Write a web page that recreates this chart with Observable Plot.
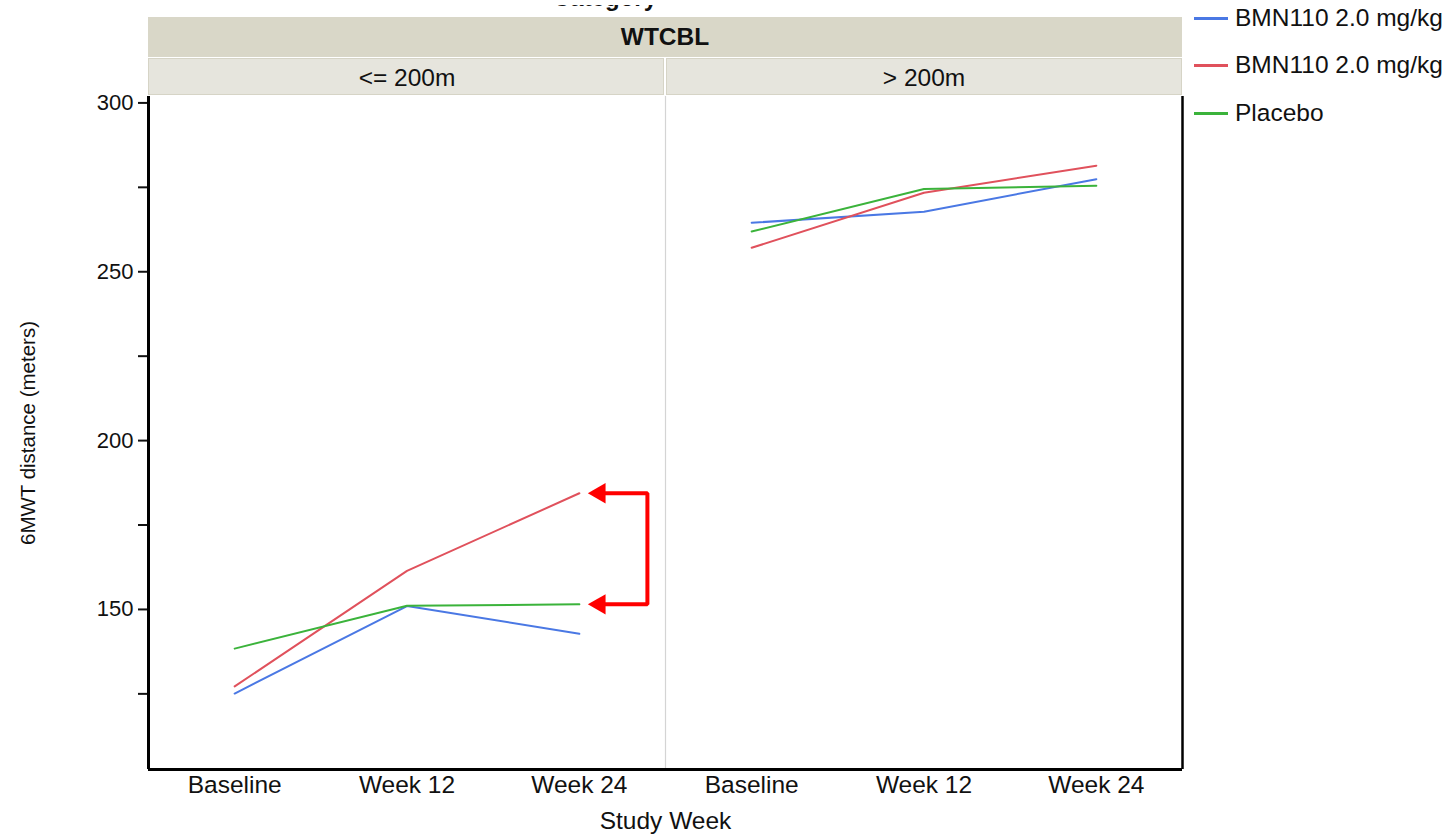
<!DOCTYPE html>
<html>
<head>
<meta charset="utf-8">
<script src="https://cdn.jsdelivr.net/npm/d3@7"></script>
<script src="https://cdn.jsdelivr.net/npm/@observablehq/plot@0.6"></script>
<style>
  html, body { margin: 0; padding: 0; background: #ffffff; }
  body { font-family: "Liberation Sans", Arial, Helvetica, sans-serif; color: #111; }
  #wrap { position: relative; width: 1444px; height: 836px; overflow: hidden; background: #fff; }
  .strip { position: absolute; box-sizing: border-box; display: flex; align-items: center; justify-content: center; z-index: 0; }
  #plotHost { position: absolute; left: 0; top: 0; z-index: 1; }
  .titleClip { position: absolute; left: 0; top: 5px; width: 1444px; height: 9px; overflow: hidden; z-index: 2; }
  .title { position: absolute; font-weight: bold; font-size: 24px; line-height: 24px; white-space: nowrap; }
  .legend { position: absolute; left: 1194px; top: 0; z-index: 2; }
  .legend .item { position: absolute; left: 0; white-space: nowrap; display: flex; align-items: center; font-size: 24.5px; height: 30px; }
  .legend .sw { width: 34px; height: 3px; margin-right: 7px; }
</style>
</head>
<body>
<div id="wrap">
  <div class="titleClip"><div class="title" id="title" style="right:787px; top:-19.3px;"></div></div>
  <div class="strip" style="left:148px; top:17px; width:1034px; height:40px; background:#d9d7c8; font-weight:bold; font-size:24.5px;" id="topStrip"></div>
  <div class="strip" style="left:148px; top:58px; width:516px; height:37px; background:#e6e5dd; border:1px solid #d6d4c6;"></div>
  <div class="strip" style="left:666px; top:58px; width:516px; height:37px; background:#e6e5dd; border:1px solid #d6d4c6;"></div>
  <div id="plotHost"></div>
  <div class="legend" id="legend"></div>
</div>
<script>
// ---------- data ----------
const panelTitle = "WTCBL";
const titleText = "Category";
const weeks = ["Baseline", "Week 12", "Week 24"];
const groups = ["<= 200m", "> 200m"];
const seriesKeys = ["BMN110 2.0 mg/kg (a)", "BMN110 2.0 mg/kg (b)", "Placebo"];
const seriesLabels = ["BMN110 2.0 mg/kg", "BMN110 2.0 mg/kg", "Placebo"];
const seriesColors = ["#4a78e4", "#e0515c", "#3bb33b"];

// "<= 200m" panel
const blueLow  = [125.1, 151.0, 142.8];
const redLow   = [127.2, 161.4, 184.4];
const greenLow = [138.4, 151.1, 151.5];
// "> 200m" panel
const blueHigh  = [264.5, 267.8, 277.4];
const redHigh   = [257.1, 273.4, 281.4];
const greenHigh = [261.9, 274.5, 275.5];

const yTicks = [125, 150, 175, 200, 225, 250, 275, 300];
const yLabel = "6MWT distance (meters)";
const xLabel = "Study Week";

// ---------- build table ----------
const rows = [];
const panelSeries = [[blueLow, redLow, greenLow], [blueHigh, redHigh, greenHigh]];
groups.forEach((g, gi) => {
  panelSeries[gi].forEach((vals, si) => {
    vals.forEach((v, wi) => rows.push({group: g, series: seriesKeys[si], week: weeks[wi], xi: wi, value: v}));
  });
});

const xDomain = [-0.5, weeks.length - 0.5];
const yDomain = [102.6, 301.9];

// annotation bracket between red and green Week 24 values in the first panel
const lastX = weeks.length - 1;
const arrowTop = redLow[lastX];
const arrowBottom = greenLow[lastX];
const bracket = [
  {g: groups[0], x: lastX + 0.14, y: arrowTop},
  {g: groups[0], x: lastX + 0.395, y: arrowTop},
  {g: groups[0], x: lastX + 0.395, y: arrowBottom},
  {g: groups[0], x: lastX + 0.14, y: arrowBottom}
];
const heads = [
  {g: groups[0], x: lastX + 0.118, y: arrowTop},
  {g: groups[0], x: lastX + 0.118, y: arrowBottom}
];

const font = '"Liberation Sans", Arial, Helvetica, sans-serif';

const chart = Plot.plot({
  width: 1444,
  height: 836,
  marginLeft: 148,
  marginRight: 262,
  marginTop: 96,
  marginBottom: 67,
  style: {background: "transparent", fontFamily: font, fontSize: "24px", color: "#111", overflow: "visible"},
  x: {domain: xDomain},
  y: {domain: yDomain},
  fx: {domain: groups, padding: 0},
  color: {domain: seriesKeys, range: seriesColors},
  marks: [
    // strip labels (facet names)
    Plot.axisFx({anchor: "top", tickSize: 0, tickPadding: 11, label: null, fontSize: 24.5}),
    // overall x title
    Plot.axisFx({anchor: "bottom", tickSize: 0, tickFormat: () => "", label: xLabel, labelAnchor: "center", labelOffset: 59, labelArrow: "none", fontSize: 24.5}),
    Plot.axisX({ticks: weeks.map((w, i) => i), tickFormat: i => weeks[i], tickSize: 0, tickPadding: 6, label: null, fontSize: 24.5}),
    Plot.axisY({ticks: yTicks, tickFormat: d => d % 50 === 0 ? d : "", tickSize: 10, tickPadding: 5, strokeWidth: 2, label: null, fontSize: 22}),
    Plot.axisY({ticks: [], label: yLabel, labelAnchor: "center", labelOffset: 128, labelArrow: "none", fontSize: 20.5}),
    // panel divider
    Plot.ruleX([{g: groups[1], x: xDomain[0]}], {x: "x", fx: "g", stroke: "#d4d4d4", strokeWidth: 1.2}),
    // frame lines
    Plot.ruleY([yDomain[0]], {stroke: "#000", strokeWidth: 3}),
    Plot.ruleX([{g: groups[0], x: xDomain[0]}], {x: "x", fx: "g", stroke: "#000", strokeWidth: 3}),
    Plot.ruleX([{g: groups[1], x: xDomain[1]}], {x: "x", fx: "g", stroke: "#000", strokeWidth: 2.5}),
    // data lines
    Plot.line(rows, {fx: "group", x: "xi", y: "value", z: "series", stroke: "series", strokeWidth: 2}),
    // annotation
    Plot.line(bracket, {fx: "g", x: "x", y: "y", stroke: "#ff0000", strokeWidth: 4, strokeLinejoin: "miter", curve: "linear"}),
    Plot.dot(heads, {fx: "g", x: "x", y: "y", symbol: "triangle", r: 7.6, rotate: -90, fill: "#ff0000", stroke: "none"})
  ]
});

document.getElementById("plotHost").appendChild(chart);
document.getElementById("topStrip").textContent = panelTitle;
document.getElementById("title").textContent = titleText;

// legend
const legend = document.getElementById("legend");
const legendY = [3, 50, 98];
seriesKeys.forEach((k, i) => {
  const item = document.createElement("div");
  item.className = "item";
  item.style.top = legendY[i] + "px";
  const sw = document.createElement("div");
  sw.className = "sw";
  sw.style.background = seriesColors[i];
  const t = document.createElement("span");
  t.textContent = seriesLabels[i];
  item.appendChild(sw);
  item.appendChild(t);
  legend.appendChild(item);
});
</script>
</body>
</html>
